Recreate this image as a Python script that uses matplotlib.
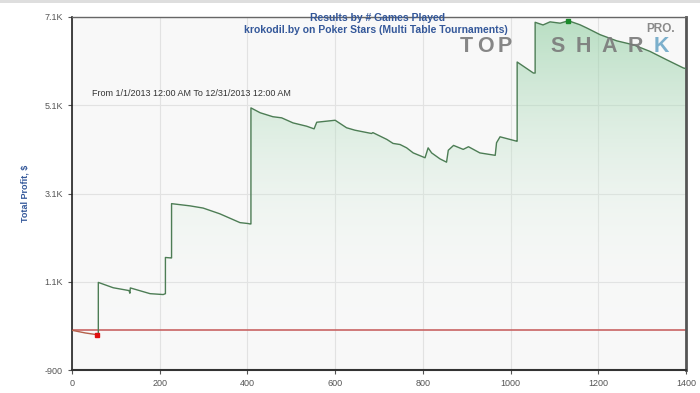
import numpy as np
import matplotlib
matplotlib.use("Agg")
import matplotlib.pyplot as plt
from matplotlib.patches import PathPatch, Rectangle

# profit curve (games played, total profit $)
games = [0, 30, 57, 60, 60, 94, 130, 132, 133, 178, 208, 213, 213, 225, 227, 227,
         269, 299, 337, 383, 401, 406, 408, 408, 429, 458, 478, 504, 535, 552, 558,
         600, 626, 645, 683, 686, 718, 732, 748, 763, 778, 805, 812, 820, 839, 854,
         858, 870, 892, 904, 930, 965, 968, 976, 1014, 1015, 1015, 1052, 1056, 1056,
         1074, 1090, 1113, 1132, 1158, 1174, 1204, 1242, 1280, 1318, 1356, 1394, 1400]
profit = [0, -60, -100, -100, 1085, 964, 900, 840, 960, 830, 810, 830, 1650, 1640, 1640, 2870,
          2820, 2770, 2640, 2440, 2420, 2410, 2410, 5040, 4930, 4840, 4815, 4700, 4625, 4565, 4715,
          4760, 4590, 4535, 4460, 4480, 4325, 4235, 4210, 4135, 4020, 3910, 4135, 4020, 3885, 3810,
          4080, 4190, 4100, 4160, 4020, 3965, 4250, 4385, 4285, 4285, 6080, 5830, 5830, 6980,
          6920, 6990, 6960, 7015, 6925, 6850, 6700, 6560, 6470, 6320, 6130, 5945, 5930]

yticks = [-900, 1100, 3100, 5100, 7100]
ytick_labels = ["-900", "1.1K", "3.1K", "5.1K", "7.1K"]
xticks = [0, 200, 400, 600, 800, 1000, 1200, 1400]

title1 = "Results by # Games Played"
title2 = "krokodil.by on Poker Stars (Multi Table Tournaments)"
date_range = "From 1/1/2013 12:00 AM To 12/31/2013 12:00 AM"

plt.rcParams['font.family'] = ['Liberation Sans', 'DejaVu Sans']

x = np.array(games, dtype=float)
y = np.array(profit, dtype=float)

fig = plt.figure(figsize=(7, 3.93), dpi=100)
fig.patch.set_facecolor('white')
fig.patches.append(Rectangle((0, 0.992), 1, 0.008, transform=fig.transFigure,
                             facecolor='#dedede', edgecolor='none'))
ax = fig.add_axes([72 / 700, 1 - 370 / 393, 614 / 700, 353 / 393])
ax.set_facecolor('#f8f8f8')

ax.set_xlim(0, 1400)
ax.set_ylim(-900, 7100)

# gradient fill under the positive part of the curve
pos = np.clip(y, 0, None)
poly = ax.fill_between(x, pos, 0, facecolor='none', edgecolor='none')
grad = np.linspace(0, 1, 256).reshape(-1, 1)
cmap = matplotlib.colors.LinearSegmentedColormap.from_list(
    'g', [(1, 1, 1, 0.0), (0.55, 0.80, 0.62, 0.6)])
img = ax.imshow(grad, extent=[0, 1400, 0, 7100], origin='lower', aspect='auto',
                cmap=cmap, zorder=1)
path = poly.get_paths()[0]
img.set_clip_path(PathPatch(path, transform=ax.transData))

# zero line
ax.axhline(0, color='#c86464', lw=1.2, zorder=2)

# curve: red part below zero, green part above
neg_idx = np.where(y < 0)[0]
split = neg_idx.max() + 1
ax.plot(x[:split], y[:split], color='#b5604a', lw=1, zorder=3)
ax.plot(x[split - 1:], y[split - 1:], color='#4d7d55', lw=1, zorder=3)

# min / max markers
imin = int(np.argmin(y))
imax = int(np.argmax(y))
ax.plot(x[imin], y[imin], 's', color='#e01010', ms=3.5, zorder=4)
ax.plot(x[imax], y[imax], 's', color='#1a8a2a', ms=3.5, zorder=4)

ax.set_xticks(xticks)
ax.set_yticks(yticks)
ax.set_yticklabels(ytick_labels)
ax.tick_params(axis='both', labelsize=6.5, labelcolor='#555555', color='#555555',
               length=3, width=0.8)
ax.grid(True, color='#e2e2e2', lw=0.8, zorder=0)
ax.set_axisbelow(True)

ax.spines['left'].set_color('#222222')
ax.spines['left'].set_linewidth(1.2)
ax.spines['bottom'].set_color('#333333')
ax.spines['bottom'].set_linewidth(1.5)
ax.spines['right'].set_color('#555555')
ax.spines['right'].set_linewidth(2)
ax.spines['top'].set_color('#666666')
ax.spines['top'].set_linewidth(1)

ax.set_ylabel("Total Profit, $", fontsize=6.5, color='#34589a', fontweight='bold',
              labelpad=11)

# titles
fig.text(378 / 700, 1 - 18 / 393, title1, ha='center', va='center', fontsize=7.5,
         color='#34589a', fontweight='bold')
fig.text(376 / 700, 1 - 30 / 393, title2, ha='center', va='center', fontsize=7.5,
         color='#34589a', fontweight='bold')
fig.text(92 / 700, 1 - 93 / 393, date_range, ha='left', va='center', fontsize=6.5,
         color='#333333')

# TOP SHARK PRO watermark
logo_y = 1 - 47 / 393
for ch, px in zip("TOP", [466, 485, 505]):
    fig.text(px / 700, logo_y, ch, ha='center', va='center', fontsize=15.5,
             fontweight='bold', color='#7a7a7a', alpha=0.9)
for ch, px in zip("SHARK", [558, 583, 609, 635, 661]):
    fig.text(px / 700, logo_y, ch, ha='center', va='center', fontsize=15.5,
             fontweight='bold', color='#6fa8c8' if ch == 'K' else '#7a7a7a', alpha=0.9)
fig.text(661 / 700, 1 - 29 / 393, "PRO.", ha='center', va='center', fontsize=8.5,
         fontweight='bold', color='#8a8a8a')

fig.savefig("out.png", dpi=100)
